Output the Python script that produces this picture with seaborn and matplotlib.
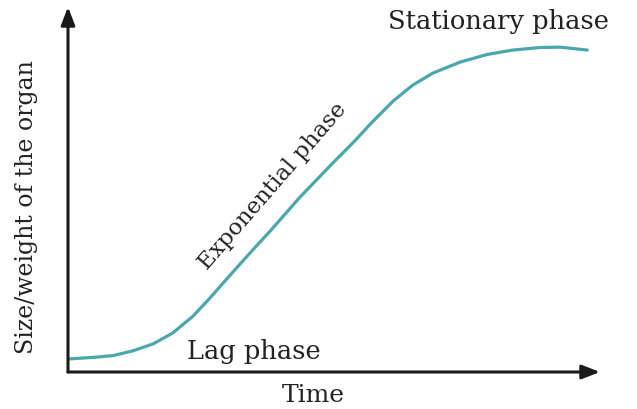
import numpy as np
import pandas as pd
import matplotlib
matplotlib.use('Agg')
import matplotlib.pyplot as plt
import seaborn as sns

# Growth curve (time vs size, arbitrary units 0-100)
time_vals = [0.4, 4.7, 8.5, 12.2, 16.0, 19.7, 23.5, 26.7, 31.0, 35.2, 38.0, 43.6,
             49.8, 53.9, 56.8, 61.1, 64.8, 68.6, 73.7, 78.8, 83.6, 88.7, 92.5, 97.6]
size_vals = [3.6, 4.0, 4.5, 5.8, 7.7, 10.7, 15.3, 20.3, 27.4, 34.2, 38.6, 47.9,
             57.3, 63.3, 67.9, 74.2, 78.6, 81.9, 84.9, 87.0, 88.2, 88.9, 89.0, 88.2]

x_label = 'Time'
y_label = 'Size/weight of the organ'
phase_labels = ['Lag phase', 'Exponential phase', 'Stationary phase']

df = pd.DataFrame({'time': time_vals, 'size': size_vals})

sns.set_theme(style='white')
plt.rcParams['font.family'] = ['DejaVu Serif']

fig = plt.figure(figsize=(6.37, 4.10), dpi=100)
ax = fig.add_axes([68 / 637, 37 / 410, 532 / 637, 365 / 410])

sns.lineplot(data=df, x='time', y='size', ax=ax, color='#48a8ad', linewidth=2.3,
             solid_capstyle='round', solid_joinstyle='round')

ax.set_xlim(0, 100)
ax.set_ylim(0, 100)
ax.set_xticks([])
ax.set_yticks([])
ax.set_xlabel('')
ax.set_ylabel('')
for s in ax.spines.values():
    s.set_visible(False)

# axes with arrows
arrow_kw = dict(arrowstyle='-|>,head_length=0.9,head_width=0.35', color='#1a1a1a',
                lw=2.2, shrinkA=0, shrinkB=0)
ax.annotate('', xy=(0, 1), xytext=(0, 0), xycoords='axes fraction',
            arrowprops=arrow_kw, annotation_clip=False)
ax.annotate('', xy=(1, 0), xytext=(0, 0), xycoords='axes fraction',
            arrowprops=arrow_kw, annotation_clip=False)

txt_color = '#222222'
fig.text(313 / 637, 1 - 396 / 410, x_label, ha='center', va='center',
         fontsize=18, color=txt_color)
fig.text(27 / 637, 1 - 207 / 410, y_label, ha='center', va='center',
         rotation=90, fontsize=17, color=txt_color)

fig.text(254 / 637, 1 - 352 / 410, phase_labels[0], ha='center', va='center',
         fontsize=18.5, color=txt_color)
fig.text(273 / 637, 1 - 186 / 410, phase_labels[1], ha='center', va='center',
         rotation=49, rotation_mode='anchor', fontsize=16.5, color=txt_color)
fig.text(498 / 637, 1 - 22 / 410, phase_labels[2], ha='center', va='center',
         fontsize=18.5, color=txt_color)

fig.savefig('out.png', dpi=100)
